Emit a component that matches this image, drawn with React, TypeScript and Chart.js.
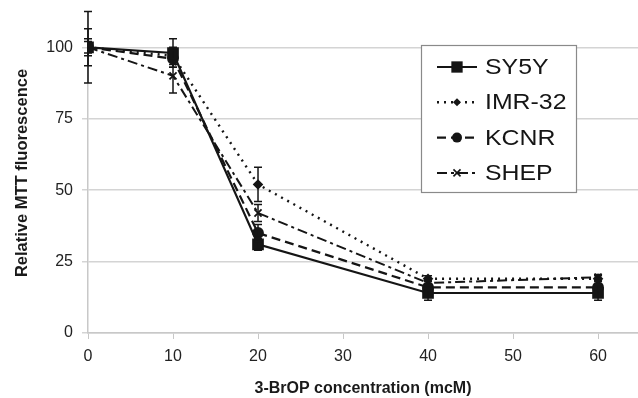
import React, { useEffect, useRef } from "react";
import { Chart, registerables } from "chart.js";

Chart.register(...registerables);

const concentrations = [0, 10, 20, 40, 60];
const seriesNames = ["SY5Y", "IMR-32", "KCNR", "SHEP"];
const sy5y = [100, 98, 31, 14, 14];
const imr32 = [100, 97, 52, 19, 19];
const kcnr = [100, 96, 35, 16, 16];
const shep = [100, 90, 42, 17.5, 19.5];
const sy5yErr = [2, 5, 2, 2.5, 2.5];
const imr32Err = [6.5, 3, 6, 1, 1];
const kcnrErr = [12.5, 3, 3, 1, 1];
const shepErr = [3, 6, 3, 1, 1];
const yTicks = [0, 25, 50, 75, 100];
const xTicks = [0, 10, 20, 30, 40, 50, 60];

const INK = "#151515";
const FONT = "'Liberation Sans', Arial, sans-serif";

const styles = [
  { dash: [], point: "rect", radius: 7, width: 2.2 },
  { dash: [2, 5], point: "rectRot", radius: 4, width: 2.4 },
  { dash: [9, 5], point: "circle", radius: 5, width: 2.2 },
  { dash: [10, 4, 3, 4], point: "crossRot", radius: 5, width: 2 },
];

function drawMarker(ctx: CanvasRenderingContext2D, kind: string, r: number, x: number, y: number) {
  ctx.save();
  ctx.setLineDash([]);
  ctx.fillStyle = INK;
  ctx.strokeStyle = INK;
  ctx.lineWidth = 1.6;
  ctx.beginPath();
  if (kind === "rect") {
    const s = r * Math.SQRT1_2;
    ctx.rect(x - s, y - s, 2 * s, 2 * s);
    ctx.fill();
  } else if (kind === "rectRot") {
    ctx.moveTo(x, y - r);
    ctx.lineTo(x + r, y);
    ctx.lineTo(x, y + r);
    ctx.lineTo(x - r, y);
    ctx.closePath();
    ctx.fill();
  } else if (kind === "circle") {
    ctx.arc(x, y, r, 0, Math.PI * 2);
    ctx.fill();
  } else {
    const s = r * Math.SQRT1_2;
    ctx.moveTo(x - s, y - s);
    ctx.lineTo(x + s, y + s);
    ctx.moveTo(x + s, y - s);
    ctx.lineTo(x - s, y + s);
    ctx.stroke();
  }
  ctx.restore();
}

const errorBars = {
  id: "errorBars",
  afterDatasetsDraw(chart: any) {
    const ctx = chart.ctx;
    const yScale = chart.scales.y;
    chart.data.datasets.forEach((ds: any, di: number) => {
      const meta = chart.getDatasetMeta(di);
      const errs = ds.errors as number[];
      meta.data.forEach((pt: any, i: number) => {
        const v = ds.data[i].y;
        const e = errs[i];
        const yt = yScale.getPixelForValue(v + e);
        const yb = yScale.getPixelForValue(v - e);
        ctx.save();
        ctx.strokeStyle = INK;
        ctx.lineWidth = 1.5;
        ctx.setLineDash([]);
        ctx.beginPath();
        ctx.moveTo(pt.x, yt);
        ctx.lineTo(pt.x, yb);
        ctx.moveTo(pt.x - 4, yt);
        ctx.lineTo(pt.x + 4, yt);
        ctx.moveTo(pt.x - 4, yb);
        ctx.lineTo(pt.x + 4, yb);
        ctx.stroke();
        ctx.restore();
      });
    });
  },
};

const boxLegend = {
  id: "boxLegend",
  afterDraw(chart: any) {
    const ctx = chart.ctx;
    const left = 421, top = 45, w = 155, h = 147;
    ctx.save();
    ctx.fillStyle = "#ffffff";
    ctx.fillRect(left, top, w, h);
    ctx.strokeStyle = "#8a8a8a";
    ctx.lineWidth = 1.2;
    ctx.strokeRect(left + 0.5, top + 0.5, w, h);
    chart.data.datasets.forEach((ds: any, i: number) => {
      const st = styles[i];
      const cy = 67 + i * 35.3;
      ctx.strokeStyle = INK;
      ctx.lineWidth = st.width;
      ctx.setLineDash(st.dash);
      ctx.beginPath();
      ctx.moveTo(437, cy);
      ctx.lineTo(477, cy);
      ctx.stroke();
      ctx.setLineDash([]);
      drawMarker(ctx, st.point, st.point === "rect" ? 8 : st.radius, 457, cy);
      ctx.save();
      ctx.fillStyle = INK;
      ctx.font = "22px " + FONT;
      ctx.textBaseline = "middle";
      ctx.textAlign = "left";
      ctx.translate(485, cy + 1);
      ctx.scale(1.13, 1);
      ctx.fillText(ds.label, 0, 0);
      ctx.restore();
    });
    ctx.restore();
  },
};

export default function App() {
  const ref = useRef<HTMLCanvasElement>(null);
  useEffect(() => {
    document.body.style.margin = "0";
    const data = [sy5y, imr32, kcnr, shep];
    const errs = [sy5yErr, imr32Err, kcnrErr, shepErr];
    const chart = new Chart(ref.current as HTMLCanvasElement, {
      type: "line",
      data: {
        datasets: seriesNames.map((name, i) => ({
          label: name,
          data: concentrations.map((c, j) => ({ x: c, y: data[i][j] })),
          errors: errs[i],
          borderColor: INK,
          backgroundColor: INK,
          borderWidth: styles[i].width,
          borderDash: styles[i].dash,
          pointStyle: styles[i].point,
          pointRadius: styles[i].radius,
          pointBorderWidth: 1.8,
          pointBackgroundColor: INK,
          pointBorderColor: INK,
          tension: 0,
        })) as any,
      },
      options: {
        animation: false,
        responsive: false,
        layout: { autoPadding: false, padding: { top: 13, right: 0, left: 0, bottom: 0 } },
        plugins: { legend: { display: false }, tooltip: { enabled: false } },
        scales: {
          x: {
            type: "linear",
            min: 0,
            max: 64.7,
            afterBuildTicks: (s: any) => {
              s.ticks = xTicks.map((v) => ({ value: v }));
            },
            afterFit: (s: any) => {
              s.height = 65;
              s.paddingLeft = 0;
              s.paddingRight = 0;
            },
            grid: { drawOnChartArea: false, drawTicks: true, tickLength: 6, color: "#c8c8c8" },
            border: { color: "#c8c8c8", width: 1.5 },
            ticks: { font: { size: 16, family: FONT }, color: "#222", padding: 8, maxRotation: 0 },
            title: {
              display: true,
              text: "3-BrOP concentration (mcM)",
              font: { size: 16, weight: "bold", family: FONT },
              color: "#1a1a1a",
              padding: { top: 7, bottom: 0 },
            },
          },
          y: {
            type: "linear",
            min: 0,
            max: 112,
            afterBuildTicks: (s: any) => {
              s.ticks = yTicks.map((v) => ({ value: v }));
            },
            afterFit: (s: any) => {
              s.width = 88;
              s.paddingTop = 0;
              s.paddingBottom = 0;
            },
            grid: { drawTicks: true, tickLength: 6, color: "#d4d4d4", lineWidth: 1.5 },
            border: { color: "#c8c8c8", width: 1.5 },
            ticks: { font: { size: 16, family: FONT }, color: "#222", padding: 9 },
            title: {
              display: true,
              text: "Relative MTT fluorescence",
              font: { size: 16.5, weight: "bold", family: FONT },
              color: "#1a1a1a",
              padding: { top: 13, bottom: 0 },
            },
          },
        },
      } as any,
      plugins: [errorBars, boxLegend],
    });
    return () => chart.destroy();
  }, []);
  return (
    <div style={{ width: 638, height: 398 }}>
      <canvas ref={ref} width={638} height={398} style={{ display: "block" }} />
    </div>
  );
}
